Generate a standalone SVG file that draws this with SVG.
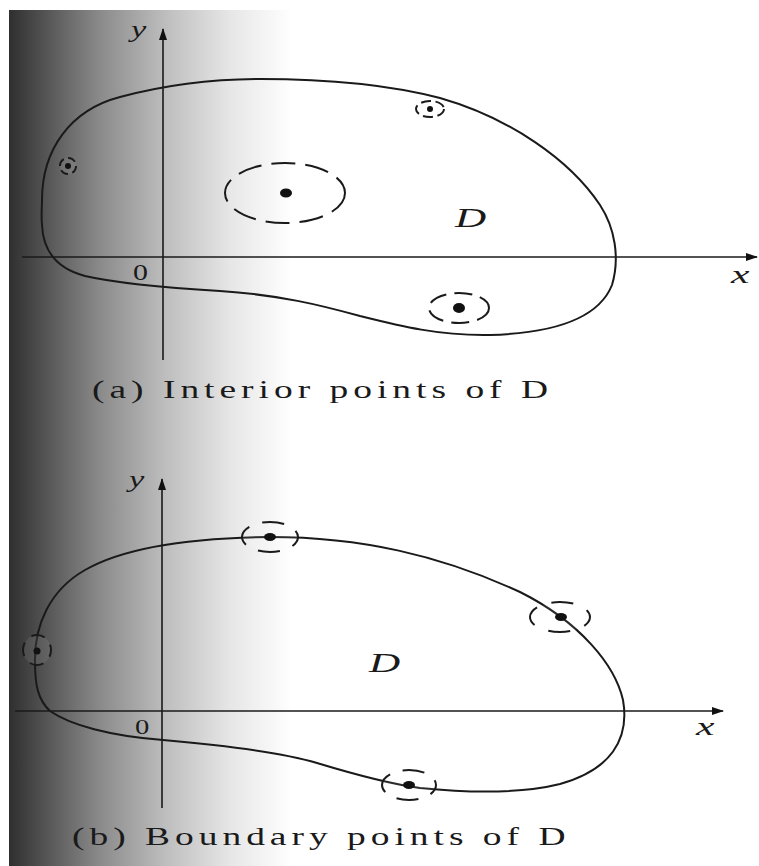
<svg xmlns="http://www.w3.org/2000/svg" width="759" height="866" viewBox="0 0 759 866">
<defs>
<linearGradient id="bg" gradientUnits="userSpaceOnUse" x1="9" y1="0" x2="292" y2="0">
<stop offset="0" stop-color="#2f2f2f"/>
<stop offset="0.15" stop-color="#5a5a5a"/>
<stop offset="0.32" stop-color="#8a8a8a"/>
<stop offset="0.55" stop-color="#bdbdbd"/>
<stop offset="0.78" stop-color="#e6e6e6"/>
<stop offset="1" stop-color="#ffffff"/>
</linearGradient>
<marker id="arr" viewBox="0 0 12 8" refX="11" refY="4" markerWidth="12" markerHeight="8" markerUnits="userSpaceOnUse" orient="auto">
<path d="M0,0 L12,4 L0,8 Z" fill="#111"/>
</marker>
<style>
.axis{stroke:#1a1a1a;stroke-width:1.6;fill:none}
.curve{stroke:#1a1a1a;stroke-width:2;fill:none}
.nb{stroke:#1a1a1a;stroke-width:2;fill:#ffffff;fill-opacity:0.08}
.dot{fill:#111}
.it{font-family:"Liberation Serif",serif;font-style:italic;fill:#1a1a1a}
.rm{font-family:"Liberation Serif",serif;fill:#1a1a1a}
.cap{font-family:"Liberation Serif",serif;font-size:25px;fill:#1a1a1a}
</style>
</defs>
<rect x="0" y="0" width="759" height="866" fill="#ffffff"/>
<rect x="9" y="10" width="750" height="856" fill="url(#bg)"/>

<g id="connectors">
<g id="axes-a">
<line class="axis" x1="22" y1="257" x2="757" y2="257" marker-end="url(#arr)"/>
<line class="axis" x1="163" y1="360" x2="163" y2="29" stroke-width="2" marker-end="url(#arr)"/>
</g>
<g id="axes-b">
<line class="axis" x1="15" y1="711" x2="723" y2="711" marker-end="url(#arr)"/>
<line class="axis" x1="162" y1="808" x2="162" y2="479" stroke-width="2" marker-end="url(#arr)"/>
</g>
</g>

<g id="region-a">
<path class="curve" d="M42,200 C42,150 70,110 120,97 C150,89 200,79 260,79 C330,79 390,85 440,98 C510,118 570,160 600,205 C615,228 620,258 612,285 C600,315 560,333 490,335 C440,336 400,326 360,316 C320,305 280,295 220,291 C170,288 120,284 85,276 C55,268 43,250 42,225 C41,215 42,208 42,200 Z"/>
</g>
<g id="labels-a">
<text class="it" transform="translate(131,37) scale(1.5,1)" font-size="23">y</text>
<text class="it" transform="translate(731,283) scale(1.6,1)" font-size="26">x</text>
<text class="rm" transform="translate(133,280) scale(1.3,1)" font-size="23">0</text>
<text class="it" transform="translate(455,227) scale(1.6,1)" font-size="27">D</text>
<text class="cap" transform="translate(92,398) scale(1.5,1)" x="0" y="0" textLength="304" lengthAdjust="spacing">(a) Interior points of D</text>
</g>
<g id="pt-a1">
<circle class="nb" cx="68" cy="166" r="8" stroke-dasharray="8 4.5"/>
<circle class="dot" cx="68" cy="166" r="3"/>
</g>
<g id="pt-a2">
<ellipse class="nb" cx="285" cy="193" rx="60" ry="30" stroke-dasharray="24 10"/>
<ellipse class="dot" cx="286" cy="193" rx="6" ry="4.5"/>
</g>
<g id="pt-a3">
<ellipse class="nb" cx="430" cy="109" rx="14" ry="8" stroke-dasharray="10 4.5"/>
<circle class="dot" cx="430" cy="109" r="3"/>
</g>
<g id="pt-a4">
<ellipse class="nb" cx="459" cy="308" rx="30" ry="15" stroke-dasharray="18 8"/>
<ellipse class="dot" cx="459" cy="308" rx="6" ry="5"/>
</g>

<g id="region-b">
<path class="curve" d="M35,663 C34,625 50,590 85,570 C120,550 180,538 270,537 C360,537 440,555 520,592 C580,622 615,665 623,700 C630,740 610,770 560,784 C520,794 470,793 420,788 C390,784 350,773 317,763 C280,752 220,745 163,740 C110,736 70,725 50,711 C38,700 35,685 35,663 Z"/>
</g>
<g id="labels-b">
<text class="it" transform="translate(129,487) scale(1.5,1)" font-size="23">y</text>
<text class="it" transform="translate(696,735) scale(1.6,1)" font-size="26">x</text>
<text class="rm" transform="translate(135,734) scale(1.3,1)" font-size="22">0</text>
<text class="it" transform="translate(369,672) scale(1.6,1)" font-size="27">D</text>
<text class="cap" transform="translate(72,845) scale(1.5,1)" x="0" y="0" textLength="329" lengthAdjust="spacing">(b) Boundary points of D</text>
</g>
<g id="pt-b1">
<ellipse class="nb" cx="270" cy="537" rx="28" ry="15" stroke-dasharray="22 13.5" stroke-dashoffset="11"/>
<ellipse class="dot" cx="270" cy="537" rx="6" ry="4"/>
</g>
<g id="pt-b2">
<ellipse class="nb" cx="37" cy="650" rx="14" ry="15" stroke-dasharray="14 9" stroke-dashoffset="7"/>
<circle class="dot" cx="37" cy="651" r="3.5"/>
</g>
<g id="pt-b3">
<ellipse class="nb" cx="560" cy="617" rx="30" ry="15" stroke-dasharray="22 15" stroke-dashoffset="11"/>
<ellipse class="dot" cx="561" cy="617" rx="6" ry="4"/>
</g>
<g id="pt-b4">
<ellipse class="nb" cx="409" cy="785" rx="27" ry="15" stroke-dasharray="22 13" stroke-dashoffset="11"/>
<ellipse class="dot" cx="409" cy="785" rx="6" ry="4"/>
</g>
</svg>
